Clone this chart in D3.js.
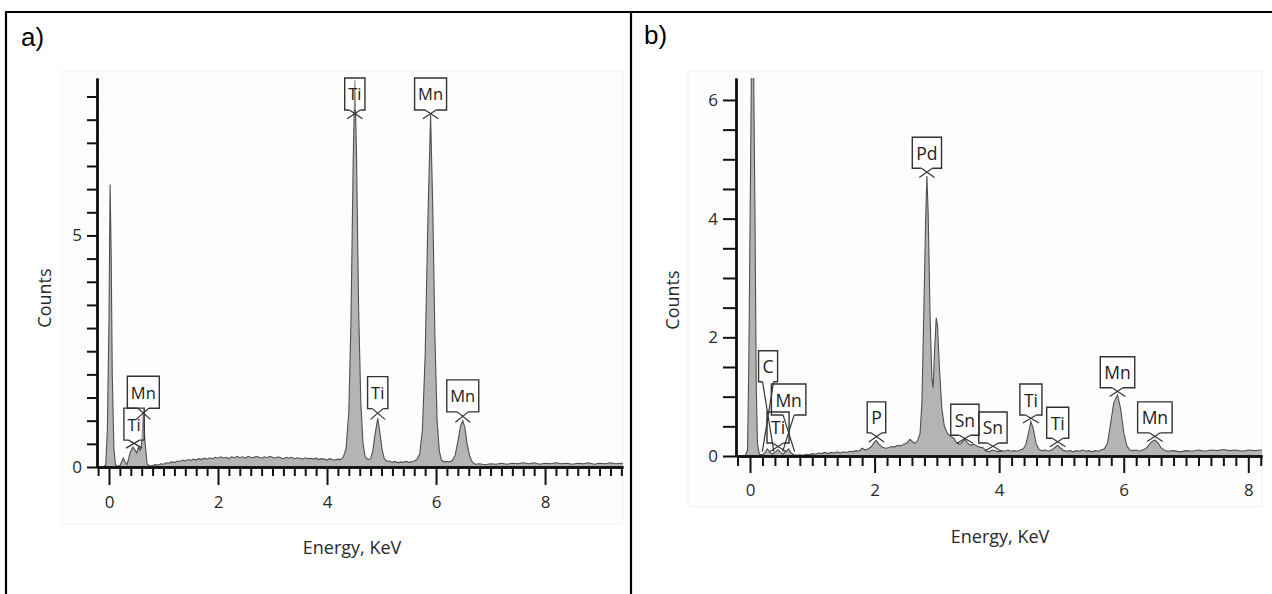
<!DOCTYPE html>
<html><head><meta charset="utf-8">
<script src="https://cdn.jsdelivr.net/npm/d3@7"></script>
<style>body{margin:0;background:#fff} svg{display:block} text{font-family:"Open Sans",sans-serif}</style>
</head><body><svg id="c" width="1272" height="594"></svg>
<script>
// ---------- DATA ----------
const spectrumA = [[-0.22,0.00],[-0.10,0.00],[-0.06,0.05],[-0.03,0.8],[0.00,3.2],[0.02,6.1],[0.04,4.6],[0.06,2.0],[0.09,0.4],[0.12,0.05],[0.16,0.01],[0.20,0.03],[0.23,0.10],[0.26,0.19],[0.29,0.12],[0.33,0.05],[0.36,0.18],[0.39,0.32],[0.44,0.43],[0.48,0.36],[0.51,0.30],[0.54,0.43],[0.57,0.36],[0.60,0.50],[0.63,1.15],[0.66,0.55],[0.70,0.06],[0.75,0.02],[0.80,0.03],[0.85,0.05],[0.90,0.04],[0.95,0.07],[1.00,0.06],[1.05,0.09],[1.10,0.08],[1.15,0.11],[1.20,0.10],[1.25,0.13],[1.30,0.12],[1.35,0.15],[1.40,0.13],[1.45,0.16],[1.50,0.14],[1.55,0.17],[1.60,0.15],[1.65,0.18],[1.70,0.16],[1.75,0.19],[1.80,0.17],[1.85,0.20],[1.90,0.18],[1.95,0.21],[2.00,0.19],[2.05,0.22],[2.10,0.19],[2.15,0.21],[2.20,0.18],[2.25,0.22],[2.30,0.20],[2.35,0.23],[2.40,0.20],[2.45,0.22],[2.50,0.19],[2.55,0.23],[2.60,0.21],[2.65,0.20],[2.70,0.23],[2.75,0.21],[2.80,0.19],[2.85,0.22],[2.90,0.20],[2.95,0.23],[3.00,0.21],[3.05,0.19],[3.10,0.22],[3.15,0.20],[3.20,0.18],[3.25,0.21],[3.30,0.19],[3.35,0.21],[3.40,0.18],[3.45,0.20],[3.50,0.19],[3.55,0.17],[3.60,0.20],[3.65,0.18],[3.70,0.19],[3.75,0.17],[3.80,0.19],[3.85,0.16],[3.90,0.18],[3.95,0.17],[4.00,0.15],[4.05,0.18],[4.10,0.16],[4.15,0.15],[4.20,0.17],[4.25,0.16],[4.30,0.22],[4.35,0.40],[4.40,1.20],[4.44,3.20],[4.48,6.60],[4.51,8.35],[4.54,6.80],[4.58,3.40],[4.62,1.40],[4.66,0.50],[4.70,0.22],[4.75,0.16],[4.80,0.18],[4.84,0.35],[4.88,0.70],[4.93,1.05],[4.97,0.75],[5.01,0.38],[5.05,0.18],[5.10,0.12],[5.15,0.13],[5.20,0.10],[5.25,0.12],[5.30,0.09],[5.35,0.11],[5.40,0.10],[5.45,0.12],[5.50,0.10],[5.55,0.11],[5.60,0.13],[5.65,0.16],[5.70,0.28],[5.75,0.80],[5.80,2.40],[5.85,5.30],[5.90,7.60],[5.94,5.60],[5.98,2.80],[6.02,1.00],[6.06,0.35],[6.10,0.15],[6.15,0.11],[6.20,0.12],[6.25,0.11],[6.30,0.14],[6.35,0.25],[6.40,0.55],[6.45,0.88],[6.49,1.00],[6.53,0.85],[6.57,0.50],[6.62,0.22],[6.67,0.10],[6.72,0.06],[6.80,0.07],[6.90,0.05],[7.00,0.07],[7.10,0.06],[7.20,0.08],[7.30,0.06],[7.40,0.08],[7.50,0.07],[7.60,0.09],[7.70,0.07],[7.80,0.09],[7.90,0.06],[8.00,0.08],[8.10,0.07],[8.20,0.09],[8.30,0.07],[8.40,0.08],[8.50,0.06],[8.60,0.08],[8.70,0.07],[8.80,0.09],[8.90,0.06],[9.00,0.08],[9.10,0.07],[9.20,0.09],[9.30,0.07],[9.43,0.08]];

const spectrumB = [[-0.22,0.00],[-0.08,0.00],[-0.04,0.10],[-0.02,1.5],[0.01,5.0],[0.03,7.5],[0.05,7.5],[0.08,4.0],[0.10,1.2],[0.12,0.2],[0.15,0.03],[0.20,0.02],[0.24,0.06],[0.28,0.12],[0.32,0.06],[0.36,0.03],[0.41,0.07],[0.45,0.11],[0.49,0.06],[0.53,0.03],[0.58,0.08],[0.62,0.12],[0.66,0.05],[0.70,0.02],[0.75,0.01],[0.80,0.02],[0.85,0.01],[0.90,0.03],[0.95,0.02],[1.00,0.04],[1.05,0.03],[1.10,0.05],[1.15,0.04],[1.20,0.06],[1.25,0.04],[1.30,0.06],[1.35,0.05],[1.40,0.07],[1.45,0.05],[1.50,0.07],[1.55,0.06],[1.60,0.08],[1.65,0.07],[1.70,0.09],[1.75,0.08],[1.80,0.13],[1.85,0.10],[1.90,0.12],[1.95,0.16],[2.00,0.24],[2.03,0.26],[2.07,0.20],[2.12,0.15],[2.17,0.13],[2.22,0.14],[2.27,0.16],[2.32,0.15],[2.37,0.18],[2.42,0.17],[2.47,0.20],[2.52,0.22],[2.57,0.28],[2.61,0.24],[2.65,0.21],[2.69,0.26],[2.73,0.38],[2.76,0.90],[2.79,2.40],[2.82,4.00],[2.84,4.72],[2.86,4.10],[2.89,2.40],[2.92,1.30],[2.94,1.15],[2.96,1.70],[2.99,2.33],[3.01,2.20],[3.04,1.50],[3.08,0.80],[3.12,0.50],[3.17,0.38],[3.22,0.33],[3.27,0.30],[3.32,0.22],[3.37,0.20],[3.41,0.24],[3.45,0.28],[3.49,0.22],[3.54,0.18],[3.59,0.20],[3.64,0.17],[3.69,0.15],[3.74,0.14],[3.79,0.09],[3.84,0.07],[3.89,0.10],[3.94,0.09],[3.99,0.07],[4.04,0.09],[4.09,0.08],[4.14,0.10],[4.19,0.08],[4.24,0.09],[4.29,0.08],[4.34,0.10],[4.39,0.12],[4.43,0.20],[4.47,0.38],[4.51,0.58],[4.55,0.45],[4.59,0.22],[4.64,0.11],[4.69,0.09],[4.74,0.10],[4.79,0.08],[4.84,0.10],[4.89,0.14],[4.94,0.18],[4.99,0.13],[5.04,0.09],[5.09,0.08],[5.14,0.09],[5.19,0.07],[5.24,0.09],[5.29,0.08],[5.34,0.10],[5.39,0.08],[5.44,0.09],[5.49,0.07],[5.54,0.09],[5.59,0.08],[5.64,0.10],[5.69,0.12],[5.74,0.22],[5.79,0.55],[5.84,0.90],[5.90,1.03],[5.95,0.80],[6.00,0.40],[6.05,0.17],[6.10,0.10],[6.15,0.09],[6.20,0.10],[6.25,0.08],[6.30,0.10],[6.35,0.12],[6.40,0.18],[6.45,0.24],[6.50,0.27],[6.55,0.22],[6.60,0.14],[6.65,0.10],[6.70,0.08],[6.80,0.09],[6.90,0.07],[7.00,0.09],[7.10,0.08],[7.20,0.10],[7.30,0.08],[7.40,0.10],[7.50,0.09],[7.60,0.11],[7.70,0.09],[7.80,0.10],[7.90,0.08],[8.00,0.10],[8.10,0.09],[8.22,0.10]];

const xTicksA = [0, 2, 4, 6, 8];
const yTicksA = [0, 5];
const xTicksB = [0, 2, 4, 6, 8];
const yTicksB = [0, 2, 4, 6];

const labelNamesA  = ["Ti", "Mn", "Ti", "Mn", "Ti", "Mn"];
const labelEnergyA = [0.46, 0.63, 4.51, 5.90, 4.93, 6.49];
const labelTipA    = [0.44, 1.06, 7.55, 7.55, 1.06, 1.00];
const labelBoxA    = [0.58, 1.27, 7.71, 7.71, 1.26, 1.19];

const labelNamesB  = ["C", "Ti", "Mn", "P", "Pd", "Sn", "Sn", "Ti", "Ti", "Mn", "Mn"];
const labelEnergyB = [0.29, 0.45, 0.62, 2.03, 2.84, 3.45, 3.90, 4.51, 4.94, 5.90, 6.50];
const labelTipB    = [0.10, 0.10, 0.10, 0.26, 4.72, 0.24, 0.11, 0.58, 0.18, 1.03, 0.27];
const labelBoxB    = [1.25, 0.22, 0.69, 0.39, 4.85, 0.35, 0.22, 0.69, 0.30, 1.15, 0.39];

// ---------- DRAW ----------
const svg = d3.select("#c");

// outer frame
svg.append("path").attr("d", "M6,595 V12 H1272 M631,12 V595")
  .attr("fill", "none").attr("stroke", "#000").attr("stroke-width", 2.2);

svg.append("text").attr("x", 21).attr("y", 46).text("a)")
  .style("font-family", "Arial, 'Liberation Sans', sans-serif").style("font-size", "26px").attr("fill", "#000");
svg.append("text").attr("x", 644).attr("y", 44).text("b)")
  .style("font-family", "Arial, 'Liberation Sans', sans-serif").style("font-size", "26px").attr("fill", "#000");

const panels = [
  { id: "a", spec: spectrumA, xDom: [-0.22, 9.43], xR: [97, 623], yDom: [0, 8.4], yR: [467, 78],
    xMaj: xTicksA, yMaj: yTicksA, bg: [62, 71, 623, 524],
    yTick: 10, xMinor: 9, xMajor: 18, yPad: 5, xPad: 11,
    ylab: [44, 298], xlab: [352, 554],
    names: labelNamesA, energy: labelEnergyA, tip: labelTipA, boxB: labelBoxA, boxH: 32, padW: 7, fs: 16.5 },
  { id: "b", spec: spectrumB, xDom: [-0.225, 8.22], xR: [736, 1262], yDom: [0, 6.37], yR: [456, 78],
    xMaj: xTicksB, yMaj: yTicksB, bg: [688, 71, 1262, 507],
    yTick: 13, xMinor: 10, xMajor: 17, yPad: 5, xPad: 11,
    ylab: [672, 300], xlab: [1000, 543],
    names: labelNamesB, energy: labelEnergyB, tip: labelTipB, boxB: labelBoxB, boxH: 31, padW: 8, fs: 17.5 }
];

panels.forEach(p => {
  const g = svg.append("g");
  g.append("rect").attr("x", p.bg[0]).attr("y", p.bg[1]).attr("width", p.bg[2] - p.bg[0]).attr("height", p.bg[3] - p.bg[1])
    .attr("fill", "#fdfdfd").attr("stroke", "#f1f1f1").attr("stroke-width", 1);

  const x = d3.scaleLinear().domain(p.xDom).range(p.xR);
  const y = d3.scaleLinear().domain(p.yDom).range(p.yR);

  const clipId = "clip" + p.id;
  svg.append("clipPath").attr("id", clipId).append("rect")
    .attr("x", p.xR[0]).attr("y", p.yR[1]).attr("width", p.xR[1] - p.xR[0]).attr("height", p.yR[0] - p.yR[1]);

  const area = d3.area().x(d => x(d[0])).y0(y(0)).y1(d => y(d[1]));
  const line = d3.line().x(d => x(d[0])).y(d => y(d[1]));
  const cg = g.append("g").attr("clip-path", `url(#${clipId})`);
  cg.append("path").datum(p.spec).attr("d", area).attr("fill", "#b4b4b4");
  cg.append("path").datum(p.spec).attr("d", line).attr("fill", "none").attr("stroke", "#505050").attr("stroke-width", 1.1);

  // axes
  const xMinorVals = d3.range(Math.ceil(p.xDom[0] / 0.2), Math.floor(p.xDom[1] / 0.2) + 1).map(i => +(i * 0.2).toFixed(2))
    .filter(v => !p.xMaj.includes(v));
  const yMinorVals = d3.range(0, Math.floor(p.yDom[1] / 0.5) + 1).map(i => i * 0.5);

  const styleAxis = sel => {
    sel.selectAll(".domain").attr("stroke", "#111").attr("stroke-width", 2.4);
    sel.selectAll(".tick line").attr("stroke", "#111").attr("stroke-width", 2);
    sel.selectAll(".tick text").attr("fill", "#2a2a2a").style("font-size", "17px").style("font-family", "'Open Sans', sans-serif");
  };

  g.append("g").attr("transform", `translate(0,${y(0)})`)
    .call(d3.axisBottom(x).tickValues(xMinorVals).tickSize(p.xMinor).tickSizeOuter(0).tickFormat(""))
    .call(styleAxis);
  g.append("g").attr("transform", `translate(0,${y(0)})`)
    .call(d3.axisBottom(x).tickValues(p.xMaj).tickSize(p.xMajor).tickSizeOuter(0).tickPadding(p.xPad).tickFormat(d3.format("d")))
    .call(styleAxis);
  g.append("g").attr("transform", `translate(${x.range()[0]},0)`)
    .call(d3.axisLeft(y).tickValues(yMinorVals.filter(v => !p.yMaj.includes(v))).tickSize(p.yTick).tickSizeOuter(0).tickFormat(""))
    .call(styleAxis);
  g.append("g").attr("transform", `translate(${x.range()[0]},0)`)
    .call(d3.axisLeft(y).tickValues(p.yMaj).tickSize(p.yTick).tickSizeOuter(0).tickPadding(p.yPad).tickFormat(d3.format("d")))
    .call(styleAxis);

  // axis titles
  g.append("text").attr("transform", `translate(${p.ylab[0]},${p.ylab[1]}) rotate(-90)`)
    .attr("text-anchor", "middle").attr("dominant-baseline", "central").style("font-size", "18px").attr("fill", "#2a2a2a").text("Counts");
  g.append("text").attr("x", p.xlab[0]).attr("y", p.xlab[1]).attr("text-anchor", "middle")
    .style("font-size", "18px").attr("fill", "#2a2a2a").text("Energy, KeV");

  // peak labels
  const lg = g.append("g");
  p.names.forEach((nm, i) => {
    const cx = x(p.energy[i]);
    const tipY = y(p.tip[i]);
    const bot = y(p.boxB[i]);
    const t = lg.append("text").attr("x", cx).attr("y", bot - p.boxH / 2).attr("text-anchor", "middle")
      .attr("dominant-baseline", "central").style("font-size", p.fs + "px").attr("fill", "#222").text(nm);
    const w = t.node().getComputedTextLength() + p.padW;
    const x0 = cx - w / 2, x1 = cx + w / 2, top = bot - p.boxH;
    const gap = Math.min(5.5, w / 2 - 2);
    lg.insert("rect", "text").attr("x", x0).attr("y", top).attr("width", w).attr("height", p.boxH)
      .attr("fill", "#fff").attr("fill-opacity", 0.35).attr("stroke", "none");
    lg.append("path").attr("d", `M${cx + gap},${bot} H${x1} V${top} H${x0} V${bot} H${cx - gap}`)
      .attr("fill", "none").attr("stroke", "#333").attr("stroke-width", 1.4);
    const ext = 1.5;
    const dy = tipY - bot;
    const k = (dy + ext) / dy;
    lg.append("path").attr("d",
      `M${cx - gap},${bot} L${cx - gap + 2 * gap * k},${bot + dy * k} M${cx + gap},${bot} L${cx + gap - 2 * gap * k},${bot + dy * k}`)
      .attr("fill", "none").attr("stroke", "#333").attr("stroke-width", 1.2);
  });
});
</script></body></html>
